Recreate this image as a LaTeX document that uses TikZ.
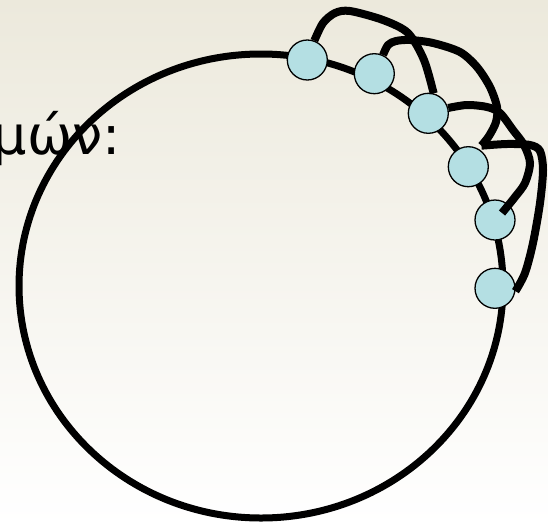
\documentclass[tikz,border=0pt]{standalone}
\usepackage{fontspec}
\newfontfamily\greekfont{DejaVu Sans}
\usetikzlibrary{calc}
\definecolor{dotcyan}{RGB}{180,223,227}
\definecolor{bgtop}{RGB}{236,233,220}
\definecolor{bgmid}{RGB}{247,246,240}

\begin{document}
\begin{tikzpicture}[x=1pt, y=-1pt,
  ring/.style={draw=black, line width=7pt},
  link/.style={draw=black, line width=8pt},
  dot/.style={circle, draw=black, line width=1.3pt, fill=dotcyan, minimum size=40pt, inner sep=0pt}
]
  \useasboundingbox (0,0) rectangle (548,525);
  \shade[top color=bgtop, middle color=bgmid, bottom color=white] (0,0) rectangle (548,525);
  \node[anchor=base east, inner sep=0pt, font=\greekfont\fontsize{54}{60}\selectfont] (lbl) at (121,154) {μών:};
  \draw[ring] (261,286) ellipse [x radius=242pt, y radius=232pt];
  \node[dot] (n1) at (307.3,60) {};
  \node[dot] (n2) at (374.3,73.7) {};
  \node[dot] (n3) at (428.3,113.3) {};
  \node[dot] (n4) at (468.3,166.7) {};
  \node[dot] (n5) at (495,220) {};
  \node[dot] (n6) at (495,288.3) {};
  \coordinate (j4) at ($(n4)!1.2!(n4.58)$);
  \coordinate (e5) at ($(n5)+(7,-7)$);
  \draw[link] plot[smooth] coordinates {(n1.70) (323,23) (335,13) (350,11) (383,20) (408,33) (424,60) (n3.75)};
  \draw[link] plot[smooth] coordinates {(n2.65) (388,45) (396,41) (410,40) (433,43) (460,52) (477,67) (490,87) (497,107) (496,122) (489,136) (j4)};
  \draw[link] plot[smooth] coordinates {(n3.15) (467,105) (487,107) (500,113) (513,130) (524,145) (530,163) (525,183) (515,197) (e5)};
  \draw[link] plot[smooth] coordinates {(j4) (507,144) (530,145) (540,151) (543,170) (540,203) (533,243) (525,273) (n6.-8)};
\end{tikzpicture}
\end{document}
